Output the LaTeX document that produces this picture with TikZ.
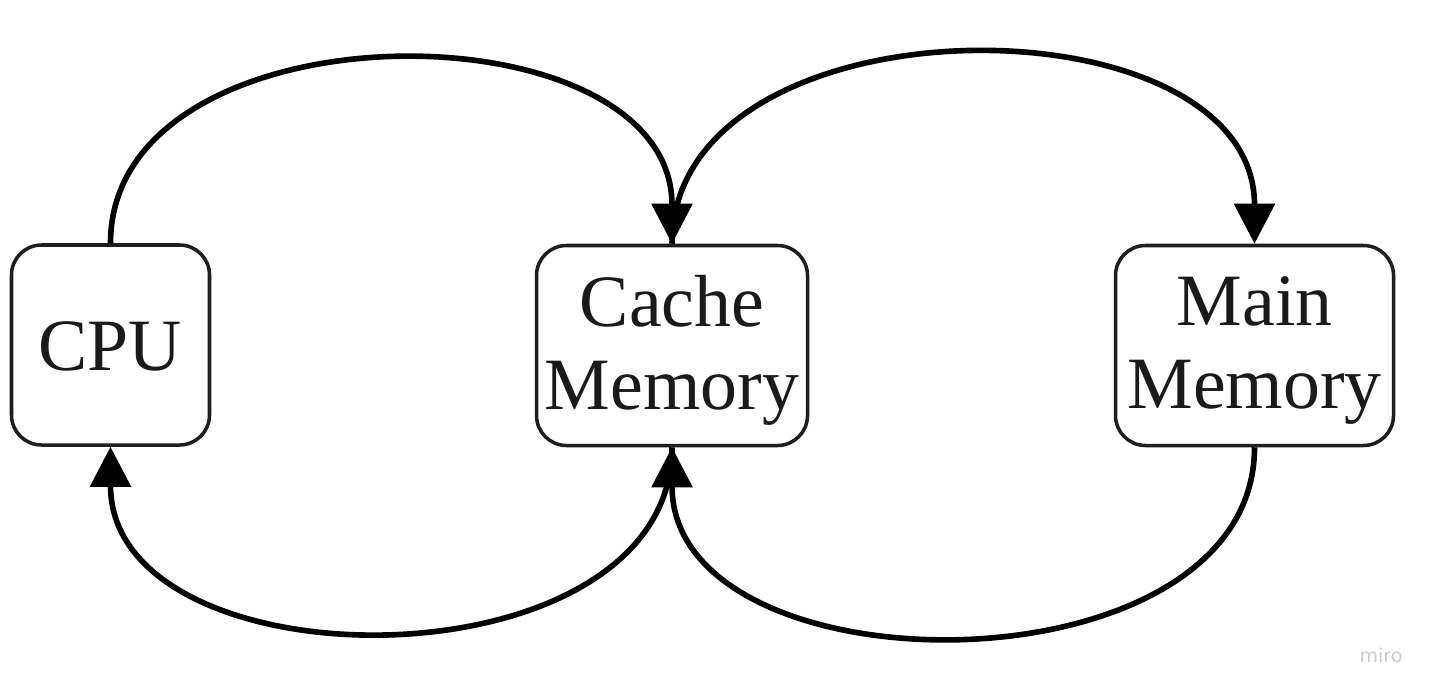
\documentclass[tikz,border=0pt]{standalone}
\usepackage{fontspec}
\setmainfont{Liberation Serif}
\newfontfamily\marksans{DejaVu Sans}
\usetikzlibrary{arrows.meta}
\definecolor{ink}{HTML}{1A1A1A}
\definecolor{boxline}{HTML}{1E1E1E}
\definecolor{faint}{HTML}{C9CAD6}
\begin{document}
\begin{tikzpicture}[
  unit/.style={draw=boxline, line width=1.0pt, rounded corners=0.3cm,
    fill=white, inner sep=0pt, minimum height=2.0cm},
  caption/.style={align=center, text=ink, inner sep=0pt,
    font=\fontsize{21pt}{23.6pt}\selectfont},
  flow/.style={draw=black, line width=1.6pt,
    -{Triangle[length=0.4cm, width=0.4cm]}},
]
\useasboundingbox[fill=white] (0,0) rectangle (14.36,6.95);

% memory hierarchy units
\node[unit, minimum width=1.98cm] (cpu)   at (1.105,3.50) {};
\node[unit, minimum width=2.71cm] (cache) at (6.72,3.495) {};
\node[unit, minimum width=2.78cm] (main)  at (12.545,3.495) {};

\node[caption] (cpu text)   at ([yshift=-0.01cm]cpu.center)   {CPU};
\node[caption] (cache text) at ([yshift=-0.05cm]cache.center) {Cache\\Memory};
\node[caption] (main text)  at ([yshift=-0.05cm]main.center)  {Main\\Memory};

% upper arcs: requests going down the hierarchy
\draw[flow] (cpu.north) .. controls +(0,2.43) and +(0,2.43) .. (cache.north);
\draw[flow] (cache.north) .. controls +(0,2.51) and +(0,2.51) .. (main.north);

% lower arcs: data coming back up
\draw[flow] (main.south) .. controls +(0,-2.50) and +(0,-2.50) .. (cache.south);
\draw[flow] (cache.south) .. controls +(0,-2.44) and +(0,-2.44) .. (cpu.south);

% editor mark
\node[anchor=base, text=faint, font=\marksans\fontsize{5.4pt}{6pt}\selectfont] (mark) at (13.81,0.33) {miro};
\end{tikzpicture}
\end{document}
